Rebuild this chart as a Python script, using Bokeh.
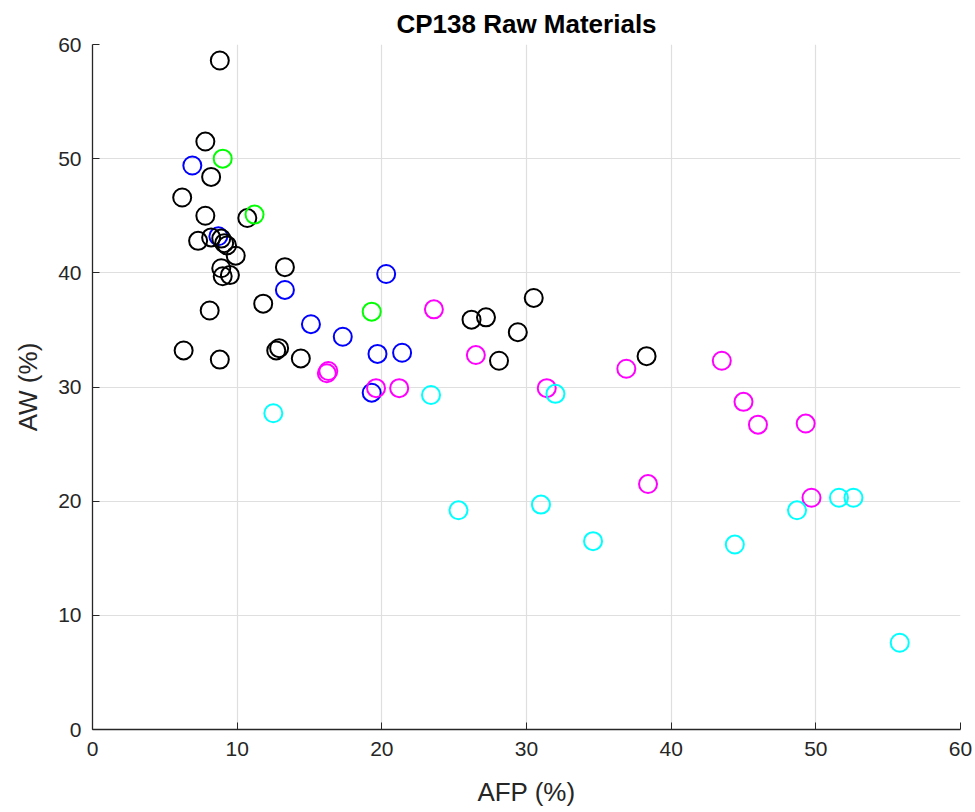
from bokeh.plotting import figure
from bokeh.models import Range1d, FixedTicker
from bokeh.embed import file_html
from bokeh.resources import INLINE

# ---- data (AFP %, AW %) by group ----
black_afp = [8.8, 7.8, 8.2, 6.2, 7.8, 10.7, 7.3, 8.2, 8.9, 9.1, 9.3, 9.9, 8.9, 9.0, 9.5,
             13.3, 11.8, 8.1, 6.3, 8.8, 12.7, 12.9, 14.4, 26.2, 27.2, 30.5, 29.4, 28.1, 38.3]
black_aw = [58.6, 51.5, 48.4, 46.6, 45.0, 44.8, 42.8, 43.1, 43.0, 42.6, 42.4, 41.5, 40.4, 39.7, 39.8,
            40.5, 37.3, 36.7, 33.2, 32.4, 33.2, 33.4, 32.5, 35.9, 36.1, 37.8, 34.8, 32.3, 32.7]

blue_afp = [6.9, 8.7, 13.3, 20.3, 15.1, 17.3, 19.7, 21.4, 19.3]
blue_aw = [49.4, 43.2, 38.5, 39.9, 35.5, 34.4, 32.9, 33.0, 29.5]

green_afp = [9.0, 11.2, 19.3]
green_aw = [50.0, 45.1, 36.6]

magenta_afp = [23.6, 26.5, 16.3, 16.2, 19.6, 21.2, 31.4, 36.9, 38.4, 43.5, 45.0, 46.0, 49.3, 49.7]
magenta_aw = [36.8, 32.8, 31.4, 31.2, 29.9, 29.9, 29.9, 31.6, 21.5, 32.3, 28.7, 26.7, 26.8, 20.3]

cyan_afp = [12.5, 23.4, 32.0, 25.3, 31.0, 34.6, 44.4, 48.7, 51.6, 52.6, 55.8]
cyan_aw = [27.7, 29.3, 29.4, 19.2, 19.7, 16.5, 16.2, 19.2, 20.3, 20.3, 7.6]

ticks = [0, 10, 20, 30, 40, 50, 60]

p = figure(width=975, height=812, output_backend="svg", toolbar_location=None,
           x_range=Range1d(0, 60), y_range=Range1d(0, 60),
           title="CP138 Raw Materials",
           min_border_left=92, min_border_right=15, min_border_top=44, min_border_bottom=83)

p.title.align = "center"
p.title.text_font = "Liberation Sans"
p.title.text_font_size = "26px"
p.title.text_font_style = "bold"
p.title.text_color = "#000000"
p.title.offset = 0
p.title.standoff = 11

p.outline_line_color = None
p.background_fill_color = "white"
p.border_fill_color = "white"

for ax in (p.xaxis, p.yaxis):
    ax.ticker = FixedTicker(ticks=ticks)
    ax.axis_line_color = "#262626"
    ax.axis_line_width = 1.3
    ax.major_tick_line_color = "#262626"
    ax.major_tick_in = 7
    ax.major_tick_out = 0
    ax.minor_tick_line_color = None
    ax.major_label_text_font = "Liberation Sans"
    ax.major_label_text_font_size = "21px"
    ax.major_label_text_color = "#262626"
    ax.axis_label_text_font = "Liberation Sans"
    ax.axis_label_text_font_size = "26px"
    ax.axis_label_text_font_style = "normal"
    ax.axis_label_text_color = "#262626"

p.xaxis.axis_label = "AFP (%)"
p.yaxis.axis_label = "AW (%)"
p.xaxis.major_label_standoff = 12
p.yaxis.major_label_standoff = 11
p.xaxis.axis_label_standoff = 18
p.yaxis.axis_label_standoff = 12

p.grid.grid_line_color = "#dfdfdf"
p.grid.grid_line_width = 1.2

common = dict(marker="circle", size=18, fill_color=None, line_width=2)
p.scatter(blue_afp, blue_aw, line_color="#0000ff", **common)
p.scatter(black_afp, black_aw, line_color="#000000", **common)
p.scatter(green_afp, green_aw, line_color="#00ff00", **common)
p.scatter(magenta_afp, magenta_aw, line_color="#ff00ff", **common)
p.scatter(cyan_afp, cyan_aw, line_color="#00ffff", **common)

open("out.html", "w").write(file_html(p, INLINE))
